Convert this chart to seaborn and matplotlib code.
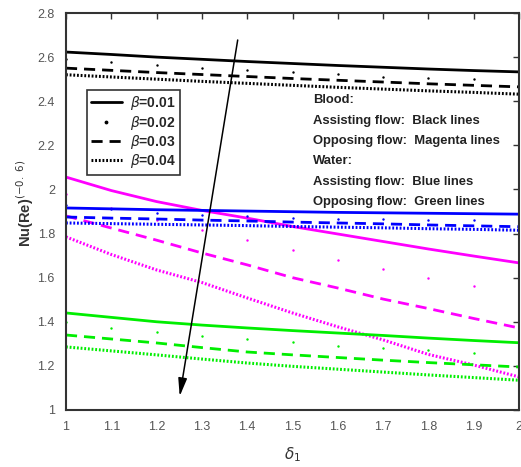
import matplotlib
matplotlib.use("Agg")
import matplotlib.pyplot as plt
import seaborn as sns
import numpy as np
import pandas as pd
from matplotlib.lines import Line2D

sns.set_theme(style="white")
plt.rcParams['font.family'] = ['Liberation Sans', 'DejaVu Sans']
plt.rcParams['mathtext.fontset'] = 'dejavusans'

delta1 = [1.0, 1.1, 1.2, 1.3, 1.4, 1.5, 1.6, 1.7, 1.8, 1.9, 2.0]
betas = ["0.01", "0.02", "0.03", "0.04"]

# Blood, assisting flow (black)
blood_assist_b1 = [2.623, 2.612, 2.600, 2.590, 2.580, 2.571, 2.562, 2.554, 2.546, 2.539, 2.533]
blood_assist_b2 = [2.590, 2.578, 2.564, 2.550, 2.540, 2.533, 2.523, 2.512, 2.505, 2.500, 2.495]
blood_assist_b3 = [2.550, 2.540, 2.530, 2.521, 2.512, 2.503, 2.495, 2.487, 2.479, 2.472, 2.465]
blood_assist_b4 = [2.520, 2.510, 2.500, 2.490, 2.481, 2.472, 2.463, 2.455, 2.447, 2.440, 2.432]

# Blood, opposing flow (magenta)
blood_oppose_b1 = [2.056, 1.995, 1.945, 1.905, 1.870, 1.832, 1.798, 1.764, 1.730, 1.698, 1.667]
blood_oppose_b2 = [1.980, 1.915, 1.862, 1.816, 1.771, 1.725, 1.680, 1.640, 1.600, 1.562, 1.530]
blood_oppose_b3 = [1.880, 1.825, 1.770, 1.712, 1.658, 1.600, 1.553, 1.503, 1.460, 1.415, 1.372]
blood_oppose_b4 = [1.785, 1.705, 1.635, 1.578, 1.508, 1.440, 1.377, 1.318, 1.252, 1.204, 1.150]

# Water, assisting flow (blue)
water_assist_b1 = [1.916, 1.912, 1.908, 1.905, 1.902, 1.899, 1.896, 1.894, 1.892, 1.890, 1.888]
water_assist_b2 = [1.930, 1.910, 1.895, 1.885, 1.878, 1.872, 1.868, 1.865, 1.862, 1.860, 1.858]
water_assist_b3 = [1.875, 1.870, 1.866, 1.861, 1.857, 1.852, 1.848, 1.844, 1.839, 1.835, 1.831]
water_assist_b4 = [1.848, 1.845, 1.842, 1.839, 1.836, 1.832, 1.829, 1.826, 1.822, 1.819, 1.815]

# Water, opposing flow (green)
water_oppose_b1 = [1.440, 1.420, 1.400, 1.385, 1.372, 1.360, 1.349, 1.338, 1.326, 1.315, 1.305]
water_oppose_b2 = [1.400, 1.372, 1.353, 1.335, 1.322, 1.310, 1.292, 1.280, 1.270, 1.260, 1.250]
water_oppose_b3 = [1.340, 1.322, 1.304, 1.283, 1.263, 1.250, 1.238, 1.226, 1.215, 1.205, 1.195]
water_oppose_b4 = [1.286, 1.268, 1.250, 1.231, 1.213, 1.198, 1.185, 1.172, 1.159, 1.147, 1.135]

groups = [
    ("black", [blood_assist_b1, blood_assist_b2, blood_assist_b3, blood_assist_b4]),
    ("#ff00ff", [blood_oppose_b1, blood_oppose_b2, blood_oppose_b3, blood_oppose_b4]),
    ("#0000ff", [water_assist_b1, water_assist_b2, water_assist_b3, water_assist_b4]),
    ("#00ee00", [water_oppose_b1, water_oppose_b2, water_oppose_b3, water_oppose_b4]),
]

fig = plt.figure(figsize=(5.21, 4.67), dpi=100)
ax = fig.add_axes([66/521, 57/467, 453/521, 397/467])

dash_style = (0, (4, 2.5))
dot_style = (0, (0.6, 0.6))

for color, series in groups:
    s1, s2, s3, s4 = series
    sns.lineplot(x=delta1, y=s1, ax=ax, color=color, lw=2.0, linestyle='-')
    sns.lineplot(x=delta1, y=s2, ax=ax, color=color, lw=0, marker='.', markersize=3.5,
                 markeredgewidth=0)
    sns.lineplot(x=delta1, y=s3, ax=ax, color=color, lw=2.0, linestyle=dash_style)
    sns.lineplot(x=delta1, y=s4, ax=ax, color=color, lw=2.2, linestyle=dot_style)

ax.set_xlim(1, 2)
ax.set_ylim(1, 2.8)
ax.set_xticks(delta1)
ax.set_xticklabels(["1", "1.1", "1.2", "1.3", "1.4", "1.5", "1.6", "1.7", "1.8", "1.9", "2"])
ax.set_yticks([1, 1.2, 1.4, 1.6, 1.8, 2.0, 2.2, 2.4, 2.6, 2.8])
ax.set_yticklabels(["1", "1.2", "1.4", "1.6", "1.8", "2", "2.2", "2.4", "2.6", "2.8"])
ax.tick_params(direction='in', length=4, width=1, colors='#333333', labelcolor='#555555',
               labelsize=9, top=True, right=True, pad=8)
for sp in ax.spines.values():
    sp.set_color('#333333')
    sp.set_linewidth(1.5)

ax.set_xlabel(r"$\delta_1$", fontsize=11, color='#333333')
ax.xaxis.set_label_coords(0.5, -0.09)
ax.set_ylabel(r"Nu(Re)$^{(-0.\ 6)}$", fontsize=10.5, fontweight='bold', color='#333333')
ax.yaxis.set_label_coords(-0.066, 0.52)

# Legend
handles = [
    Line2D([], [], color='black', lw=2.0, linestyle='-'),
    Line2D([], [], color='black', lw=0, marker='.', markersize=3.5),
    Line2D([], [], color='black', lw=2.0, linestyle=dash_style),
    Line2D([], [], color='black', lw=2.2, linestyle=dot_style),
]
labels = [r"$\beta$=" + b for b in betas]
leg = ax.legend(handles, labels, loc='upper left', bbox_to_anchor=(0.046, 0.806),
                borderaxespad=0, frameon=True, fancybox=False, handlelength=2.2,
                prop={'weight': 'bold', 'size': 10}, labelspacing=0.1,
                borderpad=0.3, handletextpad=0.6)
leg.get_frame().set_edgecolor('black')
leg.get_frame().set_linewidth(1.2)

info = ["Blood:", "Assisting flow:  Black lines", "Opposing flow:  Magenta lines",
        "Water:", "Assisting flow:  Blue lines", "Opposing flow:  Green lines"]
for i, t in enumerate(info):
    ax.text(1.545, 2.405 - i * 0.0925, t, fontsize=9.4, fontweight='bold', color='#222222',
            va='center', ha='left')

ax.annotate('', xy=(1.25, 1.05), xytext=(1.38, 2.69),
            arrowprops=dict(arrowstyle='-|>,head_length=0.9,head_width=0.22',
                            color='black', lw=1.1))

fig.savefig("out.png", dpi=100)
